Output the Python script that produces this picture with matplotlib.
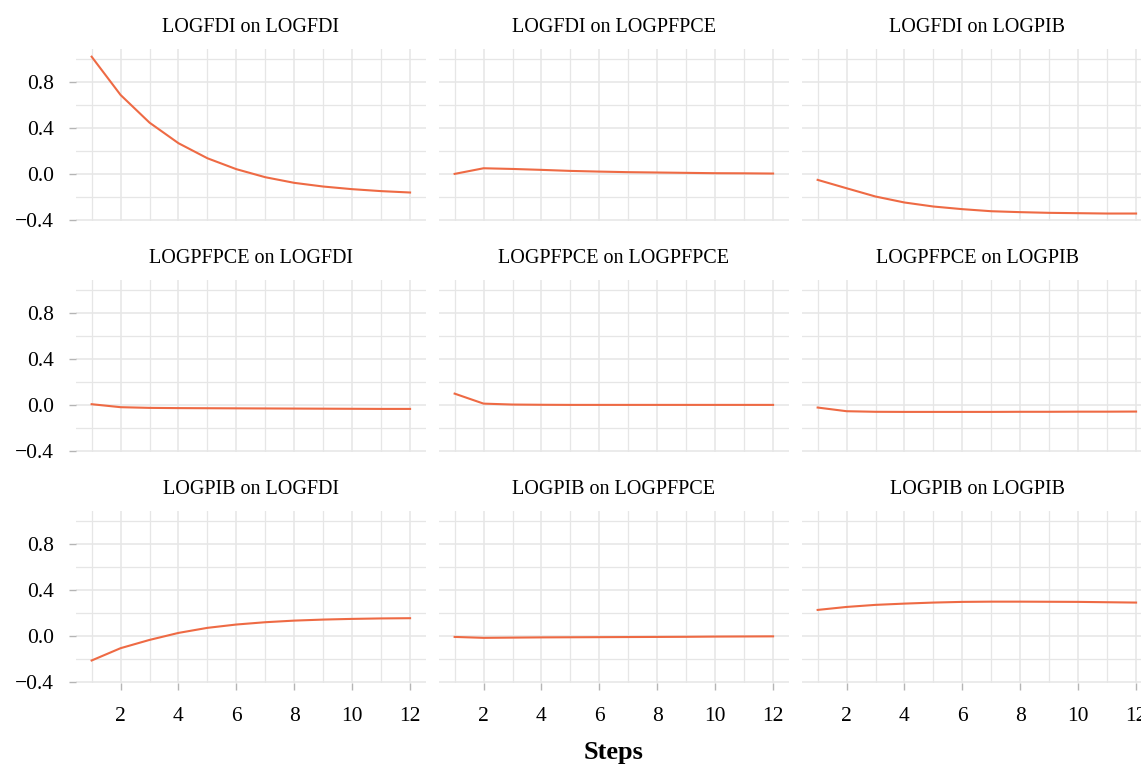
import matplotlib
matplotlib.use("Agg")
import matplotlib.pyplot as plt
from matplotlib.ticker import MultipleLocator

plt.rcParams['font.family'] = ['Liberation Serif', 'DejaVu Serif']

steps = list(range(1, 13))
variables = ["LOGFDI", "LOGPFPCE", "LOGPIB"]

fdi_on_fdi = [1.02, 0.687, 0.446, 0.267, 0.136, 0.041, -0.029, -0.078, -0.110, -0.133, -0.150, -0.162]
fdi_on_pfpce = [0.0, 0.049, 0.043, 0.035, 0.026, 0.020, 0.015, 0.012, 0.009, 0.006, 0.005, 0.003]
fdi_on_pib = [-0.052, -0.125, -0.197, -0.249, -0.284, -0.307, -0.325, -0.333, -0.339, -0.342, -0.345, -0.345]

pfpce_on_fdi = [0.006, -0.020, -0.026, -0.028, -0.029, -0.030, -0.031, -0.032, -0.033, -0.034, -0.035, -0.035]
pfpce_on_pfpce = [0.098, 0.011, 0.003, 0.001, 0.0, 0.0, 0.0, 0.0, 0.0, 0.0, 0.0, 0.0]
pfpce_on_pib = [-0.023, -0.055, -0.060, -0.061, -0.061, -0.061, -0.061, -0.060, -0.060, -0.059, -0.059, -0.058]

pib_on_fdi = [-0.214, -0.107, -0.035, 0.026, 0.070, 0.099, 0.119, 0.133, 0.142, 0.148, 0.152, 0.154]
pib_on_pfpce = [-0.009, -0.017, -0.015, -0.013, -0.012, -0.011, -0.010, -0.009, -0.008, -0.006, -0.005, -0.004]
pib_on_pib = [0.226, 0.252, 0.270, 0.281, 0.290, 0.296, 0.298, 0.298, 0.297, 0.296, 0.293, 0.290]

series = [
    [fdi_on_fdi, fdi_on_pfpce, fdi_on_pib],
    [pfpce_on_fdi, pfpce_on_pfpce, pfpce_on_pib],
    [pib_on_fdi, pib_on_pfpce, pib_on_pib],
]

W, H = 1141, 766
fig = plt.figure(figsize=(W / 100, H / 100), dpi=100)

col_left = [76, 439, 802]
ax_w = 350
row_top = [49, 280, 511]
ax_h = 172

line_color = "#EE6A44"
grid_color = "#E6E6E6"
tick_color = "#B5B5B5"

for r in range(3):
    for c in range(3):
        l = col_left[c] / W
        b = 1 - (row_top[r] + ax_h) / H
        ax = fig.add_axes([l, b, ax_w / W, ax_h / H])
        ax.plot(steps, series[r][c], color=line_color, lw=1.5, zorder=3)
        ax.set_xlim(0.46, 12.55)
        ax.set_ylim(-0.41, 1.087)
        ax.xaxis.set_major_locator(MultipleLocator(2))
        ax.xaxis.set_minor_locator(MultipleLocator(1))
        ax.yaxis.set_major_locator(MultipleLocator(0.4))
        ax.yaxis.set_minor_locator(MultipleLocator(0.2))
        ax.grid(which='major', color=grid_color, lw=1.1)
        ax.grid(which='minor', color=grid_color, lw=0.9)
        ax.set_axisbelow(True)
        for s in ax.spines.values():
            s.set_visible(False)
        ax.tick_params(which='minor', length=0)
        ax.tick_params(axis='y', which='major', length=5, width=1, color=tick_color,
                       labelsize=15.5, pad=11)
        ax.tick_params(axis='x', which='major', length=5, width=1, color=tick_color,
                       labelsize=15.5, pad=12.5)
        if c != 0:
            ax.tick_params(axis='y', left=False, labelleft=False)
        else:
            ax.set_yticks([-0.4, 0.0, 0.4, 0.8])
            ax.set_yticklabels(["\u22120.4", "0.0", "0.4", "0.8"])
        if r != 2:
            ax.tick_params(axis='x', bottom=False, labelbottom=False)
        ax.set_title(f"{variables[r]} on {variables[c]}", fontsize=14.5, pad=12)

fig.text((76 + 802 + 350) / 2 / W, 1 - 752 / H, "Steps", ha='center', va='center',
         fontsize=19, fontweight='bold')

fig.savefig("out.png", dpi=100)
